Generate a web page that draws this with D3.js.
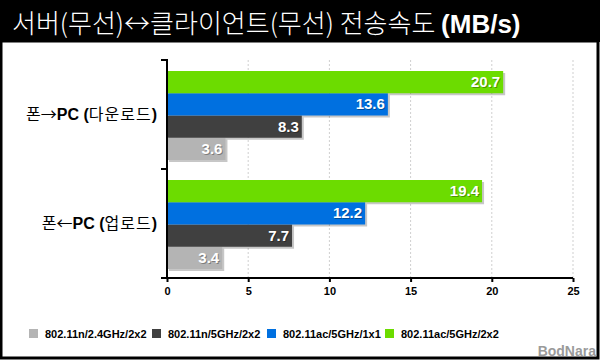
<!DOCTYPE html>
<html><head><meta charset="utf-8">
<script src="https://cdn.jsdelivr.net/npm/d3@7"></script>
<style>
html,body{margin:0;padding:0;background:#fff;}
svg{display:block;font-family:"Liberation Sans","Noto Sans CJK KR",sans-serif;}
</style></head>
<body>
<script>
const categories = ["폰→PC (다운로드)", "폰←PC (업로드)"];
const seriesNames = ["802.11n/2.4GHz/2x2", "802.11n/5GHz/2x2", "802.11ac/5GHz/1x1", "802.11ac/5GHz/2x2"];
const seriesColors = ["#b4b4b4", "#404040", "#0070e0", "#6cdc00"];
const download = [3.6, 8.3, 13.6, 20.7];
const upload = [3.4, 7.7, 12.2, 19.4];
const xTicks = [0, 5, 10, 15, 20, 25];
const titleMain = "서버(무선)↔클라이언트(무선) 전송속도 ";
const titleUnit = "(MB/s)";

const values = [download, upload];
const W = 600, H = 360;
const svg = d3.select("body").append("svg").attr("width", W).attr("height", H);

// frame
svg.append("rect").attr("x", 0).attr("y", 0).attr("width", W).attr("height", H).attr("fill", "#fff");
svg.append("rect").attr("x", 0).attr("y", 0).attr("width", W).attr("height", 42).attr("fill", "#000");
svg.append("rect").attr("x", 1).attr("y", 41).attr("width", W - 3).attr("height", H - 43)
  .attr("fill", "none").attr("stroke", "#000").attr("stroke-width", 3);

// title
const t = svg.append("text").attr("x", 12).attr("y", 33).attr("fill", "#fff").attr("font-size", 26);
t.append("tspan").attr("font-family", "'Noto Sans CJK KR','Liberation Sans',sans-serif").attr("font-weight", 300).text(titleMain);
t.append("tspan").attr("font-weight", "bold").text(titleUnit);

const x = d3.scaleLinear().domain([0, 25]).range([167, 573]);
const y0 = d3.scaleBand().domain(categories).range([60, 278]);
const y1 = d3.scaleBand().domain([3, 2, 1, 0]).range([11, y0.bandwidth() - 9]);

// grid
svg.append("g").selectAll("line").data(xTicks.filter(d => d > 0)).join("line")
  .attr("x1", d => x(d)).attr("x2", d => x(d)).attr("y1", 60).attr("y2", 278)
  .attr("stroke", "#cfcfcf").attr("stroke-width", 1).attr("stroke-dasharray", "2,2");

// bars
const groups = svg.append("g").selectAll("g").data(categories).join("g")
  .attr("transform", d => `translate(0,${y0(d)})`);
groups.each(function(cat, ci) {
  const g = d3.select(this);
  const data = values[ci].map((v, si) => ({v, si}));
  g.selectAll("rect.sh").data(data).join("rect").attr("class", "sh")
    .attr("x", x(0) + 2).attr("y", d => y1(d.si) + 2)
    .attr("width", d => x(d.v) - x(0)).attr("height", y1.bandwidth())
    .attr("fill", "#000").attr("opacity", 0.22);
  g.selectAll("rect.b").data(data).join("rect").attr("class", "b")
    .attr("x", x(0)).attr("y", d => y1(d.si))
    .attr("width", d => x(d.v) - x(0)).attr("height", y1.bandwidth())
    .attr("fill", d => seriesColors[d.si]);
  g.selectAll("text.vs").data(data).join("text").attr("class", "vs")
    .attr("x", d => x(d.v) - 3 + 1).attr("y", d => y1(d.si) + y1.bandwidth() / 2 + 6)
    .attr("text-anchor", "end").attr("font-size", 15).attr("font-weight", "bold")
    .attr("fill", "#000").attr("opacity", 0.3).text(d => d.v.toFixed(1));
  g.selectAll("text.v").data(data).join("text").attr("class", "v")
    .attr("x", d => x(d.v) - 3).attr("y", d => y1(d.si) + y1.bandwidth() / 2 + 5)
    .attr("text-anchor", "end").attr("font-size", 15).attr("font-weight", "bold")
    .attr("fill", "#fff").text(d => d.v.toFixed(1));
});

// x axis
const xa = svg.append("g").attr("transform", "translate(0,278)")
  .call(d3.axisBottom(x).tickValues(xTicks).tickSize(4).tickSizeOuter(0).tickPadding(5).tickFormat(d3.format("d")));
xa.select(".domain").attr("stroke", "#000").attr("stroke-width", 2).attr("d", `M${x(0)-6},0H${x(25)}`);
xa.selectAll(".tick line").attr("stroke", "#000").attr("stroke-width", 2);
xa.selectAll(".tick text").attr("font-size", 11).attr("font-weight", "bold").attr("fill", "#000")
  .attr("font-family", "'Liberation Sans',sans-serif");

// y axis
const ya = svg.append("g").attr("transform", `translate(${x(0)},0)`)
  .call(d3.axisLeft(y0).tickSize(0).tickPadding(10));
ya.select(".domain").attr("stroke", "#000").attr("stroke-width", 2).attr("d", "M-6,60H0V278");
ya.selectAll(".tick text").remove();
ya.selectAll(".tick").each(function(d) {
  const tk = d3.select(this);
  const m = d.match(/^(.)(.)(PC)( )(\()(.*)(\))$/);
  const tx = tk.append("text").attr("x", -10).attr("dy", "0.35em").attr("text-anchor", "end")
    .attr("font-size", 16).attr("fill", "#000");
  tx.append("tspan").attr("font-family", "'Noto Sans CJK KR',sans-serif").text(m[1]);
  tx.append("tspan").attr("font-family", "'Noto Sans CJK KR',sans-serif").text(m[2]);
  tx.append("tspan").attr("font-weight", "bold").text(m[3] + m[4] + m[5]);
  tx.append("tspan").attr("font-family", "'Noto Sans CJK KR',sans-serif").attr("letter-spacing", 1).text(m[6]);
  tx.append("tspan").attr("font-weight", "bold").text(m[7]);
});
// boundary tick between categories
svg.append("line").attr("x1", x(0) - 6).attr("x2", x(0)).attr("y1", y0(categories[1])).attr("y2", y0(categories[1]))
  .attr("stroke", "#000").attr("stroke-width", 2);

// legend
const legX = [29, 152, 267, 385];
const leg = svg.append("g").selectAll("g").data(seriesNames).join("g")
  .attr("transform", (d, i) => `translate(${legX[i]},329)`);
leg.append("rect").attr("width", 9).attr("height", 9).attr("fill", (d, i) => seriesColors[i]);
leg.append("text").attr("x", 16).attr("y", 9).attr("font-size", 11).attr("font-weight", "bold")
  .attr("fill", "#000").text(d => d);

// watermark
svg.append("text").attr("x", 596).attr("y", 356).attr("text-anchor", "end")
  .attr("font-size", 14).attr("font-weight", "bold").attr("fill", "#9a9a9a").text("BodNara");
</script>
</body></html>
